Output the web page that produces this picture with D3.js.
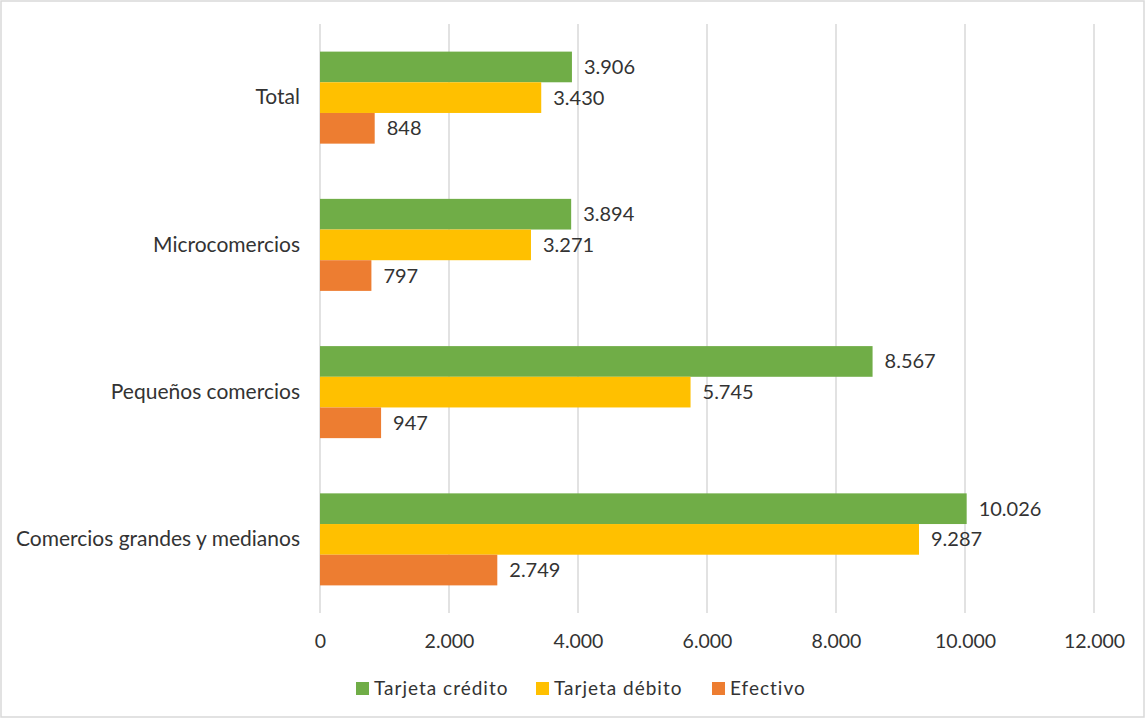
<!DOCTYPE html>
<meta charset="utf-8">
<style>
body { margin: 0; background: #fff; }
svg { font-family: Lato, "Open Sans", sans-serif; }
.axis .domain { display: none; }
.grid line { stroke: #d9d9d9; stroke-width: 1.5; }
</style>
<body>
<svg width="1146" height="719"></svg>
<script src="https://d3js.org/d3.v7.min.js"></script>
<script>
// categories, top to bottom
var categories = ["Total", "Microcomercios", "Pequeños comercios", "Comercios grandes y medianos"];
var seriesNames = ["Tarjeta crédito", "Tarjeta débito", "Efectivo"];
var credito = [3906, 3894, 8567, 10026];
var debito = [3430, 3271, 5745, 9287];
var efectivo = [848, 797, 947, 2749];
var xTicks = [0, 2000, 4000, 6000, 8000, 10000, 12000];
var colors = ["#70ad47", "#ffc000", "#ed7d31"];

var series = [credito, debito, efectivo];

var loc = d3.formatLocale({decimal: ",", thousands: ".", grouping: [3], currency: ["", ""]});
var fmt = loc.format(",d");

var svg = d3.select("svg"),
    margin = {top: 24, right: 52, bottom: 106, left: 320},
    width = +svg.attr("width") - margin.left - margin.right,
    height = +svg.attr("height") - margin.top - margin.bottom;

// outer border
svg.append("rect")
    .attr("x", 1).attr("y", 1)
    .attr("width", 1143).attr("height", 716)
    .attr("fill", "none")
    .attr("stroke", "#d9d9d9")
    .attr("stroke-width", 1.5);

var g = svg.append("g").attr("transform", "translate(" + margin.left + "," + margin.top + ")");

var x = d3.scaleLinear().domain([0, 12000]).range([0, width]);

var y0 = d3.scaleBand()
    .domain(categories)
    .range([0, height])
    .paddingInner(0.375)
    .paddingOuter(0.1875);

var y1 = d3.scaleBand()
    .domain(seriesNames)
    .range([0, y0.bandwidth()]);

// gridlines
g.append("g")
    .attr("class", "grid")
  .selectAll("line")
  .data(xTicks)
  .enter().append("line")
    .attr("x1", function(d) { return x(d); })
    .attr("x2", function(d) { return x(d); })
    .attr("y1", 0)
    .attr("y2", height);

// bars
var groups = g.append("g")
  .selectAll("g")
  .data(categories)
  .enter().append("g")
    .attr("transform", function(d) { return "translate(0," + y0(d) + ")"; });

groups.selectAll("rect")
  .data(function(d, i) { return series.map(function(s, j) { return {key: seriesNames[j], value: s[i], c: j}; }); })
  .enter().append("rect")
    .attr("x", x(0))
    .attr("y", function(d) { return y1(d.key); })
    .attr("width", function(d) { return x(d.value) - x(0); })
    .attr("height", y1.bandwidth())
    .attr("fill", function(d) { return colors[d.c]; });

groups.selectAll("text")
  .data(function(d, i) { return series.map(function(s, j) { return {key: seriesNames[j], value: s[i]}; }); })
  .enter().append("text")
    .attr("x", function(d) { return x(d.value) + 12; })
    .attr("y", function(d) { return y1(d.key) + y1.bandwidth() / 2; })
    .attr("dy", "0.35em")
    .attr("fill", "#333")
    .style("font-size", "20px")
    .text(function(d) { return fmt(d.value); });

// category axis
g.append("g")
    .attr("class", "axis")
    .call(d3.axisLeft(y0).tickSize(0).tickPadding(20))
    .call(function(a) {
      a.selectAll("text").attr("fill", "#333").style("font-size", "21px").style("font-family", "Lato, sans-serif");
    });

// value axis
g.append("g")
    .attr("class", "axis")
    .attr("transform", "translate(0," + height + ")")
    .call(d3.axisBottom(x).tickValues(xTicks).tickFormat(fmt).tickSize(0).tickPadding(21))
    .call(function(a) {
      a.selectAll("text").attr("fill", "#333").style("font-size", "19.5px").style("font-family", "Lato, sans-serif");
    });

// legend
var legendX = [356, 536, 712];
var legend = svg.append("g")
  .selectAll("g")
  .data(seriesNames)
  .enter().append("g")
    .attr("transform", function(d, i) { return "translate(" + legendX[i] + ",682)"; });

legend.append("rect")
    .attr("width", 13)
    .attr("height", 13)
    .attr("fill", function(d, i) { return colors[i]; });

legend.append("text")
    .attr("x", 18)
    .attr("y", 6.5)
    .attr("dy", "0.35em")
    .attr("fill", "#333")
    .style("font-size", "19px")
    .style("letter-spacing", "1px")
    .text(function(d) { return d; });
</script>
</body>
